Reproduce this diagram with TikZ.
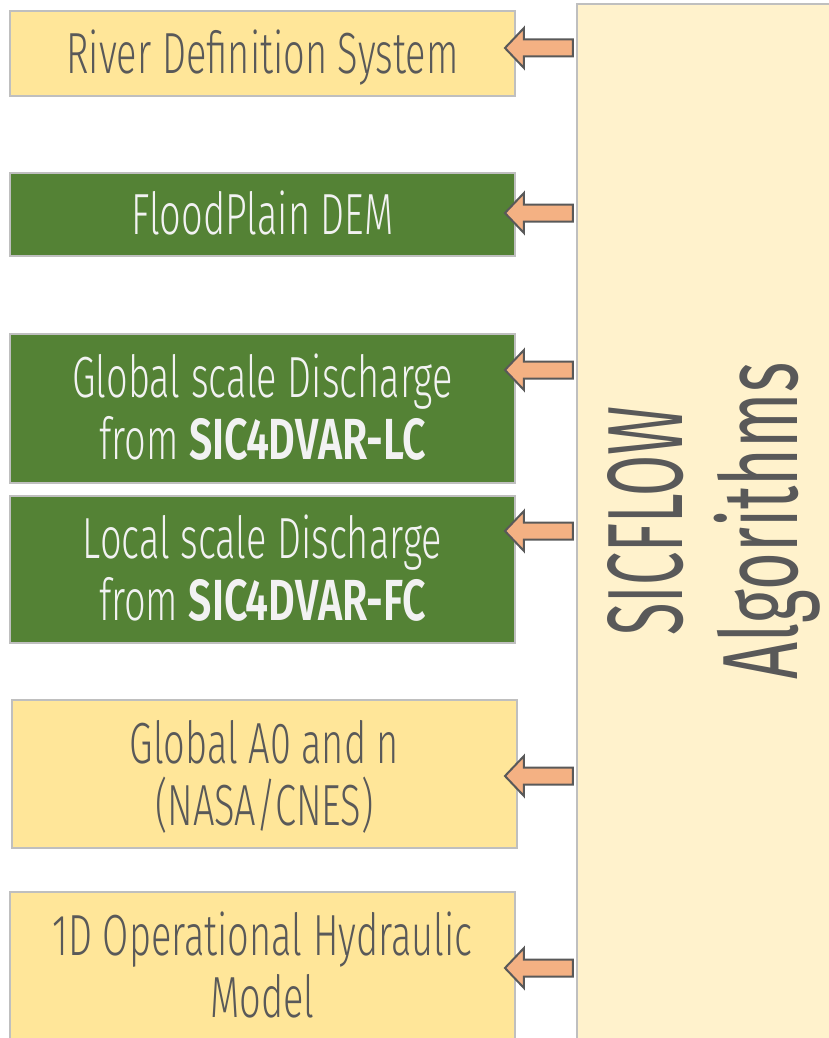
\documentclass[tikz,border=0pt]{standalone}
\usepackage{fontspec}
\setmainfont{Liberation Sans}
\newfontfamily\agency[FakeStretch=0.655, BoldFont={Fira Sans SemiBold}, BoldFeatures={FakeStretch=0.71}]{Fira Sans Light}
\newfontfamily\agencyBig[FakeStretch=0.555]{Fira Sans}
\newfontfamily\agencyAlg[FakeStretch=0.605]{Fira Sans}
\usetikzlibrary{shapes.arrows}
\definecolor{txt}{HTML}{595959}
\definecolor{txtlight}{HTML}{F2F2F2}
\definecolor{boxyellow}{HTML}{FFE699}
\definecolor{boxgreen}{HTML}{548235}
\definecolor{panelfill}{HTML}{FFF2CC}
\definecolor{bordergray}{HTML}{BFBFBF}
\definecolor{arrowfill}{HTML}{F4B183}
\tikzset{
  basebox/.style={draw=bordergray, line width=1.5pt, inner sep=0pt, minimum width=505pt,
    align=center, text height=40pt, text depth=0pt, font=\agency\fontsize{58}{62}\selectfont},
  twoline/.style={text height=102pt, text depth=0pt},
  ybox/.style={basebox, fill=boxyellow, text=txt},
  gbox/.style={basebox, fill=boxgreen, text=txtlight},
  panelbox/.style={draw=bordergray, line width=1.5pt, fill=panelfill, inner sep=0pt},
  larrow/.style={single arrow, shape border rotate=180, draw=txt, fill=arrowfill, line width=2pt,
    minimum height=68pt, single arrow head extend=11.5pt,
    single arrow tip angle=93, inner xsep=0pt, inner ysep=7.5pt, text height=0pt, text depth=0pt}
}
\begin{document}
\begin{tikzpicture}[x=1pt,y=-1pt]
\useasboundingbox (0,0) rectangle (828,1038);
% panel
\node[panelbox, minimum width=255pt, minimum height=1041pt] (panel) at (704.5,524.5) {};
\node[rotate=90, align=center, text=txt, inner sep=0pt, font=\fontsize{107}{115}\selectfont] (ptext) at (714,521)
  {{\agencyBig SICFLOW}\\{\agencyAlg Algorithms}};
% boxes
\node[ybox, minimum height=85pt] (b1) at (262.5,53.5) {River Definition System};
\node[gbox, minimum height=83pt] (b2) at (262.5,214.5) {FloodPlain DEM};
\node[gbox, twoline, minimum height=149pt] (b3) at (262.5,408.5) {Global scale Discharge\\from \textbf{SIC4DVAR-LC}};
\node[gbox, twoline, minimum height=147pt] (b4) at (262.5,569.5) {Local scale Discharge\\from \textbf{SIC4DVAR-FC}};
\node[ybox, twoline, minimum height=148pt] (b5) at (264.5,774) {Global A0 and n\\(NASA/CNES)};
\node[ybox, twoline, minimum height=148pt] (b6) at (262.5,966) {1D Operational Hydraulic\\Model};
% arrows
\node[larrow] (a1) at (543,48) {};
\node[larrow] (a2) at (543,213) {};
\node[larrow] (a3) at (543,370) {};
\node[larrow] (a4) at (543,531) {};
\node[larrow] (a5) at (543,776) {};
\node[larrow] (a6) at (543,968) {};
\end{tikzpicture}
\end{document}
